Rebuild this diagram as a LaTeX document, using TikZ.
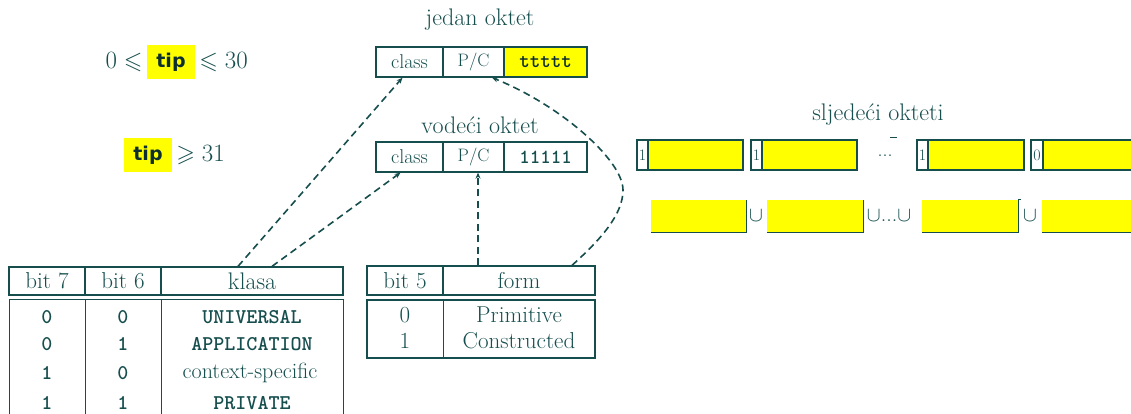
\documentclass[tikz,border=0pt]{standalone}
\usepackage{amssymb}
\usepackage{fontspec}
\usetikzlibrary{arrows.meta}
\newfontfamily\tipfont{DejaVu Sans}
\definecolor{ink}{RGB}{22,78,78}
\definecolor{hl}{RGB}{255,255,0}
\newcommand\sz[1]{\fontsize{#1}{#1}\selectfont}
\tikzset{
  txt/.style={text=ink, inner sep=0pt},
  tipbox/.style={fill=hl, minimum width=48pt, minimum height=34pt, inner sep=0pt,
                 font=\tipfont\bfseries\sz{19}, text=ink!60!black},
  cell/.style={draw=ink, line width=1.3pt, minimum height=30pt, inner sep=0pt, text=ink},
  hcell/.style={draw=ink, line width=1.3pt, inner sep=0pt, text=ink, font=\sz{23}},
  lowbox/.style={fill=hl, minimum height=32pt, inner sep=0pt},
  edge/.style={draw=ink, line width=1.3pt},
  link/.style={draw=ink, line width=1.6pt, dash pattern=on 7pt off 4.5pt,
               -{Stealth[length=6pt,width=5pt]}}
}
\begin{document}
\begin{tikzpicture}[x=1pt,y=-1pt]
\useasboundingbox (0,0) rectangle (1131,414);
\clip (0,0) rectangle (1131,414);

% range conditions on the tag number
\node[tipbox] (tip1) at (171,62) {tip};
\node[txt, anchor=east, font=\sz{24}] (lo1) at ([xshift=-4]tip1.west) {$0\leqslant$};
\node[txt, anchor=west, font=\sz{24}] (hi1) at ([xshift=4]tip1.east) {$\leqslant 30$};
\node[tipbox] (tip2) at (148,155.5) {tip};
\node[txt, anchor=west, font=\sz{24}] (hi2) at ([xshift=4]tip2.east) {$\geqslant 31$};

% single identifier octet
\node[txt, font=\sz{24}] (t1) at (480,20) {jedan oktet};
\node[cell, minimum width=67pt, font=\sz{20}] (cls1) at (409.5,62) {class};
\node[cell, minimum width=61pt, font=\sz{18}] (pc1) at (473.5,62) {P/C};
\node[cell, minimum width=83pt, fill=hl, font=\ttfamily\bfseries\sz{20}, text=ink!60!black] (tg1) at (545.5,62) {ttttt};

% leading octet
\node[txt, font=\sz{24}] (t2) at (480,125) {vodeći oktet};
\node[cell, minimum width=67pt, font=\sz{20}] (cls2) at (409.5,157) {class};
\node[cell, minimum width=61pt, font=\sz{18}] (pc2) at (473.5,157) {P/C};
\node[cell, minimum width=83pt, font=\ttfamily\bfseries\sz{20}] (tg2) at (545.5,157) {11111};

% subsequent octets
\node[txt, font=\sz{24}] (t3) at (878,115) {sljedeći okteti};
\node[cell, minimum width=106pt, fill=hl] (s1) at (690,155) {};
\node[cell, minimum width=11pt, fill=white, font=\sz{16}] (s1b) at (642.5,155) {1};
\node[cell, minimum width=106pt, fill=hl] (s2) at (804,155) {};
\node[cell, minimum width=11pt, fill=white, font=\sz{16}] (s2b) at (756.5,155) {1};
\node[txt, font=\sz{20}] (dots) at (885,156) {...};
\draw[ink, line width=0.8pt] (890,137) -- (897,137);
\node[cell, minimum width=107pt, fill=hl] (s3) at (970.5,155) {};
\node[cell, minimum width=11pt, fill=white, font=\sz{16}] (s3b) at (922.5,155) {1};
\node[cell, minimum width=109pt, fill=hl] (s4) at (1085.5,155) {};
\node[cell, minimum width=12pt, fill=white, font=\sz{16}] (s4b) at (1037,155) {0};

% concatenated tag bits
\node[lowbox, minimum width=95pt] (u1) at (698.5,216) {};
\node[lowbox, minimum width=96pt] (u2) at (815,216) {};
\node[lowbox, minimum width=96pt] (u3) at (970,216) {};
\node[lowbox, minimum width=100pt, anchor=west] (u4) at (1042,216) {};
\draw[edge] (u1.south west) -- (u1.south east) -- (u1.north east);
\draw[edge] (u2.south west) -- (u2.south east) -- (u2.north east);
\draw[edge] (u3.south west) -- (u3.south east) -- (u3.north east) -- ++(3,0);
\draw[edge] (u4.south west) -- (u4.south east);
\node[txt, font=\sz{22}] (c1) at (756,216) {$\cup$};
\node[txt, font=\sz{22}] (c2) at (889,216) {$\cup$...$\cup$};
\node[txt, font=\sz{22}] (c3) at (1030,216) {$\cup$};

% class table
\node[hcell, minimum width=76pt, minimum height=28pt] (hb7) at (47,281) {bit 7};
\node[hcell, minimum width=76pt, minimum height=28pt] (hb6) at (123,281) {bit 6};
\node[hcell, minimum width=182pt, minimum height=28pt, font=\sz{24}] (hkl) at (252,281) {klasa};
\node[draw=ink, line width=1.3pt, minimum width=334pt, minimum height=140pt, inner sep=0pt, anchor=north west] (lbody) at (9,299) {};
\draw[edge] (hb7.east |- lbody.north) -- (hb7.east |- lbody.south);
\draw[edge] (hb6.east |- lbody.north) -- (hb6.east |- lbody.south);
\begin{scope}[every node/.style={txt, font=\sz{22}}]
  \node[font=\ttfamily\bfseries\sz{21}] (r1a) at (47,317) {0};
  \node[font=\ttfamily\bfseries\sz{21}] (r1b) at (123,317) {0};
  \node[font=\ttfamily\bfseries\sz{21}] (r1c) at (252,317) {UNIVERSAL};
  \node[font=\ttfamily\bfseries\sz{21}] (r2a) at (47,344) {0};
  \node[font=\ttfamily\bfseries\sz{21}] (r2b) at (123,344) {1};
  \node[font=\ttfamily\bfseries\sz{21}] (r2c) at (252,344) {APPLICATION};
  \node[font=\ttfamily\bfseries\sz{21}] (r3a) at (47,373) {1};
  \node[font=\ttfamily\bfseries\sz{21}] (r3b) at (123,373) {0};
  \node (r3c) at (250,373) {context-specific};
  \node[font=\ttfamily\bfseries\sz{21}] (r4a) at (47,403) {1};
  \node[font=\ttfamily\bfseries\sz{21}] (r4b) at (123,403) {1};
  \node[font=\ttfamily\bfseries\sz{21}] (r4c) at (252,403) {PRIVATE};
\end{scope}

% form table
\node[hcell, minimum width=76pt, minimum height=29pt] (hb5) at (405,280.5) {bit 5};
\node[hcell, minimum width=152pt, minimum height=29pt] (hform) at (519,280.5) {form};
\node[draw=ink, line width=1.3pt, minimum width=228pt, minimum height=58pt, inner sep=0pt] (rbody) at (481,329) {};
\draw[edge] (hb5.east |- rbody.north) -- (hb5.east |- rbody.south);
\begin{scope}[every node/.style={txt, font=\sz{23}}]
  \node (p1a) at (405,315) {0};
  \node (p1b) at (519,315) {Primitive};
  \node (p2a) at (405,341) {1};
  \node (p2b) at (519,341) {Constructed};
\end{scope}

% connectors from the tables to the octet fields
\draw[link] ([xshift=-14]hkl.north) -- ([xshift=-7]cls1.south);
\draw[link] ([xshift=20]hkl.north) -- ([xshift=-9]cls2.south);
\draw[link] ([xshift=-41]hform.north) -- ([xshift=4.5]pc2.south);
\coordinate (bend) at (623,190);
\draw[link] ([xshift=53]hform.north) .. controls (600,240) and (623,215) .. (bend)
  .. controls (623,160) and (560,105) .. ([xshift=18.5]pc1.south);
\end{tikzpicture}
\end{document}
